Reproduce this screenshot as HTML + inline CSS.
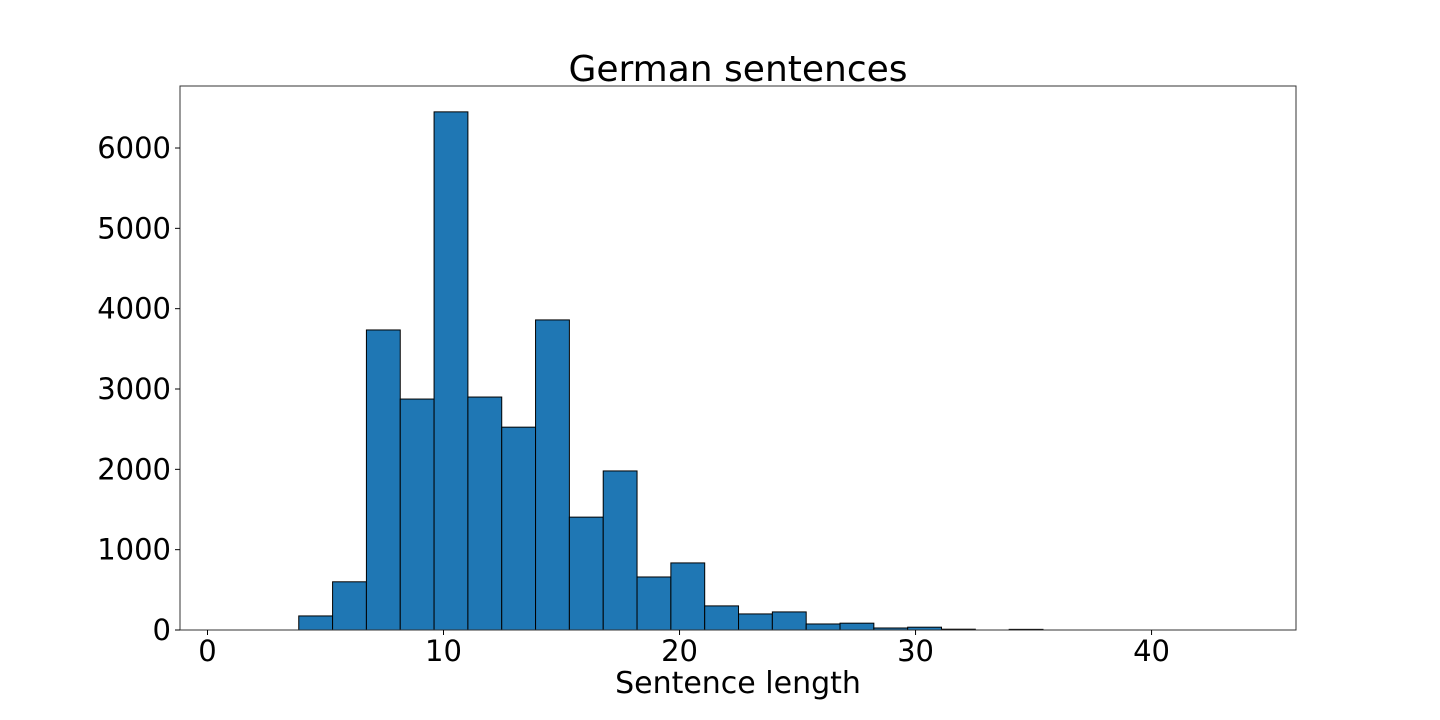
<!DOCTYPE html>
<html><head><meta charset="utf-8"><style>
body{margin:0;background:#fff;}
svg{display:block;font-family:"DejaVu Sans","Liberation Sans",sans-serif;}
</style></head><body>
<svg id="chart" width="1440" height="720">
<rect width="1440" height="720" fill="#fff"/>
<text x="738" y="81" text-anchor="middle" font-size="36" fill="#000">German sentences</text>
<g id="bars"></g>
<g id="axes"></g>
<text x="738" y="693" text-anchor="middle" font-size="30" fill="#000">Sentence length</text>
</svg>
<script>
const binStart = 1;
const binEnd = 44;
const counts = [0,0,175,600,3735,2875,6450,2900,2525,3860,1405,1980,660,835,300,200,225,75,85,25,35,10,0,8,0,0,0,0,0,0];
const xTicks = [0,10,20,30,40];
const yTicks = [0,1000,2000,3000,4000,5000,6000];

const L=180,R=1296,T=86,B=630;
const xMin=-1.165,xMax=46.12,yMax=6772;
const sx=v=>L+(v-xMin)/(xMax-xMin)*(R-L);
const sy=v=>B-v/yMax*(B-T);
const NS='http://www.w3.org/2000/svg';
const bars=document.getElementById('bars');
const axes=document.getElementById('axes');
const w=(binEnd-binStart)/counts.length;
counts.forEach((c,i)=>{
  if(c<=0) return;
  const x0=sx(binStart+i*w),x1=sx(binStart+(i+1)*w);
  const r=document.createElementNS(NS,'rect');
  r.setAttribute('x',x0);r.setAttribute('y',sy(c));
  r.setAttribute('width',x1-x0);r.setAttribute('height',B-sy(c));
  r.setAttribute('fill','#1f77b4');r.setAttribute('stroke','#000');r.setAttribute('stroke-width','1');
  
  
  bars.appendChild(r);
});
const frame=document.createElementNS(NS,'rect');
frame.setAttribute('x',L);frame.setAttribute('y',T);frame.setAttribute('width',R-L);frame.setAttribute('height',B-T);
frame.setAttribute('fill','none');frame.setAttribute('stroke','#333');frame.setAttribute('stroke-width','1');


axes.appendChild(frame);
xTicks.forEach(v=>{
  const x=sx(v);
  const l=document.createElementNS(NS,'line');
  l.setAttribute('x1',x);l.setAttribute('x2',x);l.setAttribute('y1',B);l.setAttribute('y2',B+5);l.setAttribute('stroke','#000');
  
  
  axes.appendChild(l);
  const t=document.createElementNS(NS,'text');
  t.setAttribute('x',x);t.setAttribute('y',B+31);t.setAttribute('text-anchor','middle');t.setAttribute('font-size','29');
  t.textContent=v;
  
  
  axes.appendChild(t);
});
yTicks.forEach(v=>{
  const y=sy(v);
  const l=document.createElementNS(NS,'line');
  l.setAttribute('x1',L-5);l.setAttribute('x2',L);l.setAttribute('y1',y);l.setAttribute('y2',y);l.setAttribute('stroke','#000');
  
  
  axes.appendChild(l);
  const t=document.createElementNS(NS,'text');
  t.setAttribute('x',L-9);t.setAttribute('y',y+10);t.setAttribute('text-anchor','end');t.setAttribute('font-size','29');
  t.textContent=v;
  
  
  axes.appendChild(t);
});
</script>
</body></html>
